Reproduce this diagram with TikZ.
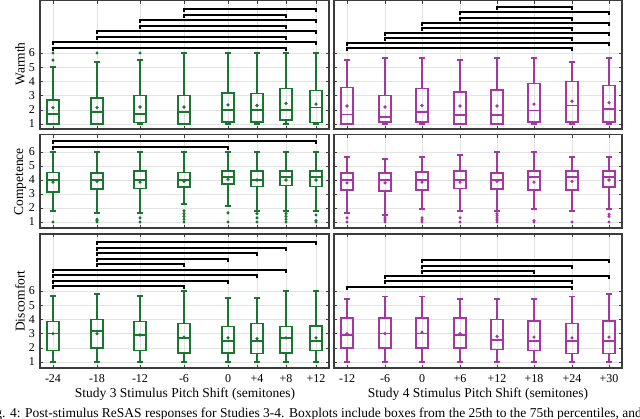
\documentclass[tikz,border=0pt]{standalone}
\usepackage{fontspec}
\setmainfont{Liberation Serif}
\definecolor{gr}{RGB}{24,118,48}
\definecolor{mg}{RGB}{165,55,165}
\definecolor{fr}{RGB}{60,60,60}
\newcommand\boxrow[3]{%
 \foreach \x/\lo/\qa/\md/\qc/\hi/\mn in {#3}{%
  \pgfmathsetmacro\ylo{#1-(\lo-1)*#2}\pgfmathsetmacro\yqa{#1-(\qa-1)*#2}%
  \pgfmathsetmacro\ymd{#1-(\md-1)*#2}\pgfmathsetmacro\yqc{#1-(\qc-1)*#2}%
  \pgfmathsetmacro\yhi{#1-(\hi-1)*#2}\pgfmathsetmacro\ymn{#1-(\mn-1)*#2}%
  \draw[bxl] (\x,\ylo) -- (\x,\yqa) (\x,\yqc) -- (\x,\yhi);
  \draw[bxl] (\x-3.2,\ylo) -- (\x+3.2,\ylo) (\x-3.2,\yhi) -- (\x+3.2,\yhi);
  \draw[bxl] (\x-6,\yqa) rectangle (\x+6,\yqc);
  \draw[bxl] (\x-6,\ymd) -- (\x+6,\ymd);
  \fill (\x,\ymn) circle (1.8);
 }}
\newcommand\outl[3]{%
 \foreach \x/\vals in {#3}{\foreach \v in \vals {\fill (\x,{#1-(\v-1)*#2}) circle (1.7);}}}
\newcommand\brk[3]{\draw[brl] (#2,#1+2.8) -- (#2,#1) -- (#3,#1) -- (#3,#1+2.8);}
\newcommand\panel[6]{%
 \foreach \x in \xs {\draw[grd] (\x,#3) -- (\x,#4);
   \draw[tk] (\x,#3) -- (\x,#3+3) (\x,#4) -- (\x,#4-3);}
 \foreach \v in {1,...,6} {\draw[grd] (#1,{#5-(\v-1)*#6}) -- (#2,{#5-(\v-1)*#6});
   \draw[tk] (#1,{#5-(\v-1)*#6}) -- (#1+3,{#5-(\v-1)*#6}) (#2,{#5-(\v-1)*#6}) -- (#2-3,{#5-(\v-1)*#6});}
 \draw[frm] (#1,#3) rectangle (#2,#4);}
\newcommand\ylabs[2]{\foreach \v in {1,...,6}{\node[tl,anchor=east] at (36,{#1-(\v-1)*#2}) {\v};}}
\begin{document}
\begin{tikzpicture}[x=1pt,y=-1pt,
  bxl/.style={line width=1.6pt},
  brl/.style={black,line width=1.1pt},
  grd/.style={gray!22,line width=0.5pt},
  tk/.style={fr,line width=0.6pt},
  frm/.style={fr,line width=1.1pt},
  tl/.style={font=\fontsize{12}{13}\selectfont,inner sep=1pt},
  ttl/.style={font=\fontsize{13.5}{15}\selectfont,inner sep=0pt}]
\useasboundingbox (0,0) rectangle (640,418);
\clip (0,0) rectangle (640,418);
\fill[white] (0,0) rectangle (640,418);
\def\xs{53,97,140,184,228,257,286,316}
\panel{40}{329}{0.5}{129}{124}{14.2}
\panel{40}{329}{134.5}{228}{222}{14}
\panel{40}{329}{234}{368}{362}{14.2}
\def\xs{347,385,422,460,497,534,572,609}
\panel{334}{622}{0.5}{129}{124}{14.2}
\panel{334}{622}{134.5}{228}{222}{14}
\panel{334}{622}{234}{368}{362}{14.2}
\ylabs{124}{14.2}\ylabs{222}{14}\ylabs{362}{14.2}
\node[ttl,rotate=90] at (20,64) {Warmth};
\node[ttl,rotate=90] at (20,182) {Competence};
\node[ttl,rotate=90] at (20,301) {Discomfort};
\begin{scope}[gr]
\boxrow{124}{14.2}{53/1/1/1.7/2.7/5/2.15, 97/1/1/1.85/2.85/5.35/2.15, 140/1/1.1/1.7/3/5.5/2.2, 184/1/1/1.85/3/6/2.2, 228/1/1.15/2/3.2/6/2.35, 257/1/1.15/2/3.15/6/2.3, 286/1/1.3/2/3.5/6/2.45, 316/1/1.1/2.15/3.35/6/2.4}
\outl{124}{14.2}{53/{5.5,6}, 97/{6}, 140/{6}}
\boxrow{222}{14}{53/1.8/3.15/4/4.55/6/3.85, 97/1.65/3.35/4/4.5/6/3.9, 140/1.65/3.4/4/4.65/6/3.85, 184/2.3/3.5/4/4.55/6/3.9, 228/2.15/3.7/4.2/4.65/6/4.05, 257/1.8/3.55/4/4.65/6/4, 286/1.8/3.6/4.2/4.65/6/4, 316/1.8/3.55/4.2/4.65/6/4}
\outl{222}{14}{53/{1}, 97/{1,1.1,1.2}, 140/{1,1.3}, 184/{1,1.2,1.4,1.6,1.8}, 228/{1,1.65}, 257/{1,1.3,1.6,1.8}, 286/{1,1.2,1.4,1.6,1.8}, 316/{1,1.1,1.5}}
\boxrow{362}{14.2}{53/1/1.8/3/3.85/5.65/3, 97/1/2/3.2/4/5.8/3, 140/1/1.8/2.9/3.85/5.65/2.9, 184/1/1.65/2.7/3.7/6/2.75, 228/1/1.65/2.5/3.5/5.5/2.7, 257/1/1.6/2.5/3.7/5.5/2.65, 286/1/1.65/2.7/3.5/6/2.7, 316/1/1.8/2.5/3.55/6/2.7}
\end{scope}
\begin{scope}[mg]
\boxrow{124}{14.2}{347/1/1/1.68/3.58/5.5/2.27, 385/1/1.15/1.5/3/5.65/2.2, 422/1/1.15/1.85/3.5/5.65/2.3, 460/1/1/1.65/3.25/5.5/2.27, 497/1/1/1.65/3.4/5.65/2.27, 534/1/1.15/1.95/3.85/5.65/2.4, 572/1/1.15/2.3/4/5.35/2.6, 609/1/1.15/2.05/3.7/5.65/2.5}
\boxrow{222}{14}{347/1.65/3.3/4/4.5/5.65/3.8, 385/1.5/3.2/4/4.5/5.5/3.8, 422/1.95/3.3/4/4.57/5.65/3.85, 460/1.8/3.4/4/4.65/5.8/3.85, 497/1.8/3.35/4/4.5/6/3.9, 534/1.95/3.3/4.2/4.65/6/3.85, 572/1.8/3.3/4.2/4.65/5.65/3.9, 609/1.95/3.5/4.2/4.65/5.65/4}
\outl{222}{14}{347/{1,1.3}, 385/{1,1.15,1.3,1.45}, 422/{1,1.15,1.3}, 460/{1,1.3}, 497/{1,1.15,1.3,1.45,1.6,1.8}, 534/{1,1.1}, 572/{1}, 609/{1,1.4,1.55}}
\boxrow{362}{14.2}{347/1/2/2.9/4.1/5.45/3, 385/1/2/3/4.1/5.6/3, 422/1/2/3/4.1/5.6/3.1, 460/1/2/2.9/4.1/5.45/3, 497/1/1.87/2.55/4/5.45/2.8, 534/1/1.8/2.48/3.9/5.45/2.75, 572/1/1.6/2.48/3.7/5.6/2.7, 609/1/1.6/2.48/3.9/5.8/2.75}
\end{scope}
\brk{9}{184}{316}\brk{15}{184}{286}\brk{20}{140}{316}\brk{26}{140}{286}
\brk{31}{97}{316}\brk{37}{97}{286}\brk{42}{53}{316}\brk{48}{53}{286}
\brk{141}{53}{316}\brk{147}{53}{228}
\brk{242}{97}{316}\brk{248}{97}{286}\brk{253}{97}{257}\brk{259}{97}{228}\brk{264}{97}{184}
\brk{270}{53}{286}\brk{275}{53}{257}\brk{281}{53}{228}\brk{286}{53}{184}
\brk{7}{497}{572}\brk{12}{460}{609}\brk{18}{460}{572}\brk{23}{422}{609}\brk{28}{422}{572}
\brk{33}{385}{609}\brk{38}{385}{572}\brk{43}{347}{609}\brk{48}{347}{572}
\brk{260}{422}{609}\brk{266}{422}{572}\brk{271}{422}{534}\brk{276}{385}{609}\brk{281}{385}{572}\brk{287}{347}{572}
\foreach \x/\t in {53/-24,97/-18,140/-12,184/-6,228/0,257/+4,286/+8,316/+12,347/-12,385/-6,422/0,460/+6,497/+12,534/+18,572/+24,609/+30}
  \node[tl] at (\x,379) {\t};
\node[ttl] at (185,394) {Study 3 Stimulus Pitch Shift (semitones)};
\node[ttl] at (478,394) {Study 4 Stimulus Pitch Shift (semitones)};
\node[ttl,anchor=base west] at (-16,417) {Fig. 4: Post-stimulus ReSAS responses for Studies 3-4. Boxplots include boxes from the 25th to the 75th percentiles, and};
\end{tikzpicture}
\end{document}
